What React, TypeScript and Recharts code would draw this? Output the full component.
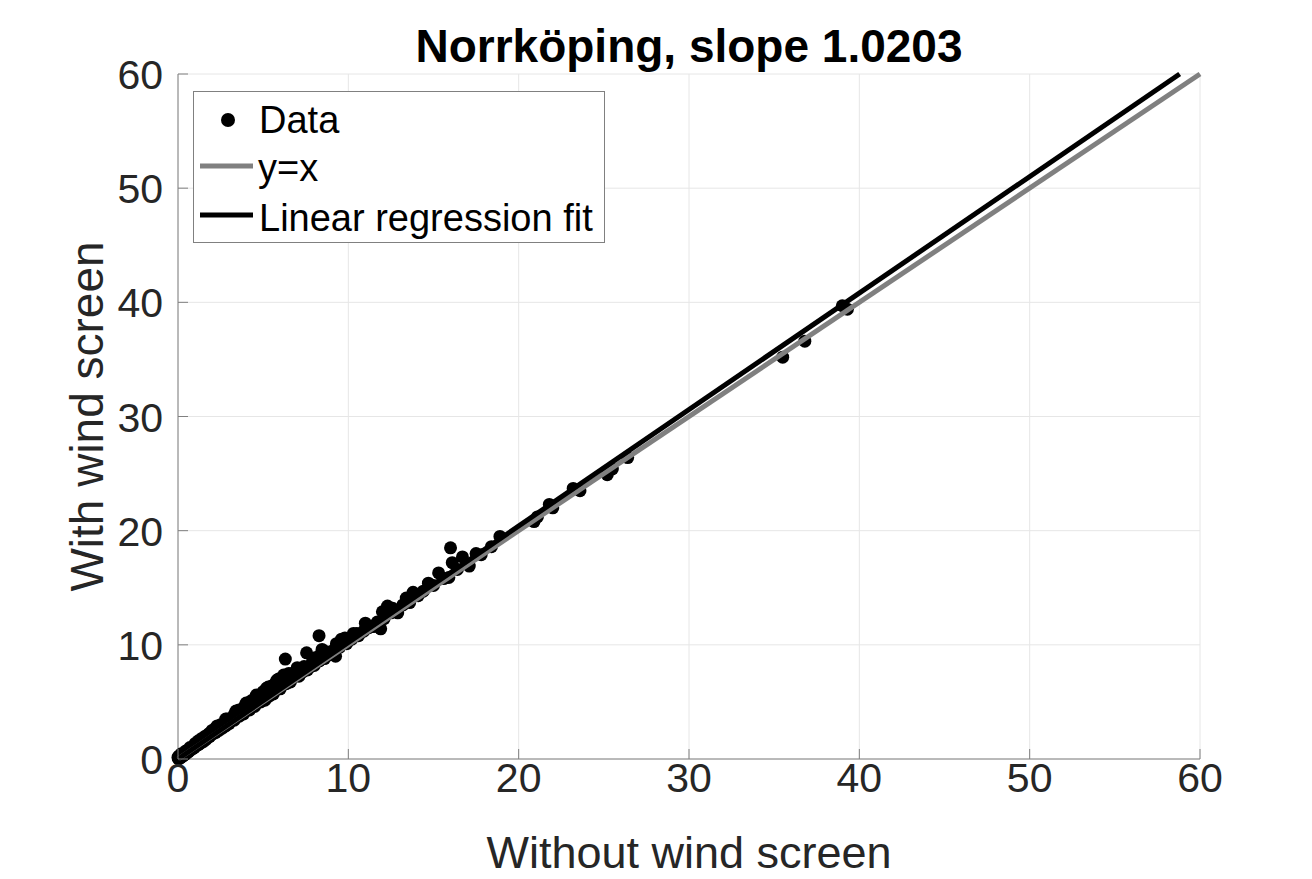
import React from "react";
import { ScatterChart, Scatter, XAxis, YAxis, CartesianGrid, Legend } from "recharts";

const withoutScreen = [
  0.02, 0.05, 0.08, 0.1, 0.12, 0.15, 0.18, 0.2, 0.22, 0.25, 0.3, 0.3, 0.35, 0.4, 0.42, 0.48, 0.5, 0.55, 0.6, 0.62,
  0.7, 0.72, 0.8, 0.85, 0.9, 0.95, 1.0, 1.05, 1.1, 1.17, 1.2, 1.3, 1.35, 1.45, 1.5, 1.6, 1.65, 1.75, 1.85, 1.9,
  2.0, 2.1, 2.2, 2.3, 2.4, 2.5, 2.6, 2.7, 2.8, 2.9, 3.0, 3.1, 3.23, 3.3, 3.45, 3.58, 3.6, 3.75, 3.85, 4.0,
  4.1, 4.2, 4.35, 4.5, 4.65, 4.7, 4.85, 5.0, 5.1, 5.25, 5.35, 5.5, 5.6, 5.8, 5.9, 6.0, 6.2, 6.3, 6.35, 6.5,
  6.6, 6.8, 7.0, 7.1, 7.3, 7.55, 7.6, 7.8, 8.0, 8.28, 8.3, 8.46, 8.6, 8.8, 9.0, 9.1, 9.25, 9.3, 9.5, 9.8,
  9.9, 10.0, 10.2, 10.5, 10.6, 10.9, 11.2, 11.5, 11.7, 11.9, 12.1, 12.3, 12.5, 12.9, 13.2, 13.4, 13.6, 13.8, 14.1, 14.4,
  14.7, 15.0, 15.3, 15.6, 15.9, 16.0, 16.1, 16.4, 16.7, 17.1, 17.5, 17.8, 18.4, 18.9, 20.9, 21.1, 21.8, 22.0, 23.2, 23.6,
  25.2, 25.5, 26.4, 35.5, 36.8, 39.0, 39.3,
  0.0, 0.05, 0.1, 0.2, 0.45, 0.7, 1.0, 1.4, 1.6, 1.8, 2.0, 2.2, 2.5, 2.9, 3.3, 3.5, 3.9, 4.3, 4.5, 4.9,
  5.0, 5.2, 5.5, 5.7, 6.1, 6.4, 6.7, 6.9, 7.2, 7.4, 7.9, 8.1, 8.7,
  1.2, 2.3, 2.8, 3.4, 4.0, 4.6, 5.3, 5.9, 6.5, 7.0, 8.4, 9.6, 10.3, 11.0, 12.0, 12.6,
];

const withScreen = [
  0.03, 0.04, 0.1, 0.15, 0.08, 0.22, 0.2, 0.3, 0.18, 0.35, 0.28, 0.42, 0.45, 0.38, 0.55, 0.5, 0.62, 0.7, 0.6, 0.78,
  0.75, 0.9, 0.95, 0.88, 1.1, 1.0, 1.2, 1.12, 1.3, 1.42, 1.25, 1.5, 1.4, 1.62, 1.55, 1.85, 1.72, 1.95, 1.95, 2.3,
  2.15, 2.4, 2.3, 2.6, 2.5, 2.85, 2.7, 3.05, 2.9, 3.25, 3.1, 3.45, 3.6, 3.4, 3.8, 4.29, 3.75, 4.1, 3.95, 4.4,
  4.9, 4.3, 4.75, 4.6, 5.0, 5.4, 5.0, 5.3, 5.15, 5.8, 5.5, 5.9, 5.7, 6.9, 6.3, 6.15, 7.35, 8.75, 6.6, 7.0,
  6.75, 7.2, 7.8, 7.25, 7.6, 9.3, 7.8, 8.1, 8.2, 10.8, 8.6, 9.6, 8.8, 9.1, 9.2, 9.5, 9.0, 10.1, 9.8, 10.6,
  10.1, 10.4, 10.5, 11.0, 10.8, 11.2, 11.5, 11.6, 12.0, 11.4, 12.3, 13.4, 12.8, 12.8, 13.5, 14.1, 13.7, 14.6, 14.3, 14.7,
  15.4, 15.2, 16.3, 15.8, 15.9, 18.5, 17.2, 16.6, 17.7, 16.9, 18.0, 17.9, 18.6, 19.5, 20.8, 21.2, 22.3, 22.0, 23.7, 23.5,
  24.9, 25.4, 26.4, 35.2, 36.6, 39.7, 39.4,
  0.15, 0.25, 0.3, 0.45, 0.7, 1.0, 1.35, 1.8, 2.0, 2.2, 2.5, 2.7, 3.0, 3.5, 3.9, 4.2, 4.6, 5.1, 5.3, 5.6,
  5.9, 6.2, 6.4, 6.6, 6.9, 7.1, 7.5, 7.4, 7.9, 8.1, 8.6, 8.9, 9.4,
  1.6, 2.9, 3.5, 4.2, 4.9, 5.6, 6.3, 7.0, 7.5, 8.0, 9.2, 10.5, 11.0, 11.9, 12.9, 13.2,
];

const axisTicks = [0, 10, 20, 30, 40, 50, 60];
const axisMax = 60;
const identityX = [0, 60];
const fitSlope = 1.0203;
const titleText = "Norrköping, slope 1.0203";
const xLabelText = "Without wind screen";
const yLabelText = "With wind screen";
const legendLabels = ["Data", "y=x", "Linear regression fit"];

const points = withoutScreen.map((x, i) => ({ x, y: withScreen[i] }));
const identityLine = identityX.map((x) => ({ x, y: x }));
const fitLine = [
  { x: 0, y: 0 },
  { x: axisMax / fitSlope, y: axisMax },
];

const FONT = "'Liberation Sans', Arial, Helvetica, sans-serif";
const AXC = "#808080";
const TXT = "#262626";
const TICK_FS = 41;
const LABEL_FS = 46;

const BottomTick = (props: any) => {
  const { x, y, payload } = props;
  return (
    <g>
      <line x1={x} y1={y} x2={x} y2={y - 10} stroke={AXC} strokeWidth={1} />
      <text x={x} y={y + 33} textAnchor="middle" fontSize={TICK_FS} fill={TXT} fontFamily={FONT}>
        {payload.value}
      </text>
    </g>
  );
};

const TopTick = (props: any) => {
  const { x, y } = props;
  return <line x1={x} y1={y} x2={x} y2={y + 10} stroke={AXC} strokeWidth={1} />;
};

const LeftTick = (props: any) => {
  const { x, y, payload } = props;
  return (
    <g>
      <line x1={x} y1={y} x2={x + 10} y2={y} stroke={AXC} strokeWidth={1} />
      <text x={x - 15} y={y + 15} textAnchor="end" fontSize={TICK_FS} fill={TXT} fontFamily={FONT}>
        {payload.value}
      </text>
    </g>
  );
};

const RightTick = (props: any) => {
  const { x, y } = props;
  return <line x1={x} y1={y} x2={x - 10} y2={y} stroke={AXC} strokeWidth={1} />;
};

const Dot = (props: any) => <circle cx={props.cx} cy={props.cy} r={6.5} fill="#000" />;
const NoShape = () => null;

const LegendBox = () => (
  <svg width={412} height={152} style={{ display: "block" }}>
    <rect x={0.5} y={0.5} width={411} height={151} fill="#fff" stroke={AXC} strokeWidth={1} />
    <circle cx={35} cy={29} r={7} fill="#000" />
    <text x={66} y={42} fontSize={38} fontFamily={FONT} fill="#000">
      {legendLabels[0]}
    </text>
    <line x1={7} y1={75} x2={60} y2={75} stroke="#808080" strokeWidth={5} />
    <text x={65} y={90} fontSize={38} fontFamily={FONT} fill="#000">
      {legendLabels[1]}
    </text>
    <line x1={7} y1={124} x2={60} y2={124} stroke="#000" strokeWidth={5} />
    <text x={66} y={140} fontSize={38} fontFamily={FONT} fill="#000">
      {legendLabels[2]}
    </text>
  </svg>
);

const XLabel = (props: any) => {
  const vb = props.viewBox || {};
  const cx = vb.x + vb.width / 2;
  return (
    <g>
      <text x={cx} y={vb.y + 109} textAnchor="middle" fontSize={45} fill={TXT} fontFamily={FONT}>
        {xLabelText}
      </text>
      <text x={cx} y={54} textAnchor="middle" fontSize={46} fontWeight="bold" fill="#000" fontFamily={FONT}>
        {titleText}
      </text>
    </g>
  );
};

const YLabel = (props: any) => {
  const vb = props.viewBox || {};
  const cx = vb.x + 95;
  const cy = vb.y + vb.height / 2;
  return (
    <text x={cx} y={cy} transform={`rotate(-90 ${cx} ${cy})`} textAnchor="middle" fontSize={LABEL_FS} fill={TXT} fontFamily={FONT}>
      {yLabelText}
    </text>
  );
};

export default function App() {
  return (
    <div style={{ width: 1296, height: 871, background: "#fff", fontFamily: FONT }}>
      <ScatterChart width={1296} height={871} margin={{ top: 66, right: 104, bottom: 60, left: 0 }}>
        <CartesianGrid stroke="#e6e6e6" strokeWidth={1} />
        <XAxis
          dataKey="x"
          type="number"
          domain={[0, axisMax]}
          ticks={axisTicks}
          interval={0}
          height={60}
          tickSize={0}
          tickMargin={0}
          tickLine={false}
          axisLine={{ stroke: AXC, strokeWidth: 1 }}
          tick={<BottomTick />}
          label={<XLabel />}
        />
        <XAxis
          xAxisId="top"
          orientation="top"
          dataKey="x"
          type="number"
          domain={[0, axisMax]}
          ticks={axisTicks}
          interval={0}
          height={0}
          tickSize={0}
          tickMargin={0}
          tickLine={false}
          axisLine={{ stroke: AXC, strokeWidth: 1 }}
          tick={<TopTick />}
        />
        <YAxis
          dataKey="y"
          type="number"
          domain={[0, axisMax]}
          ticks={axisTicks}
          interval={0}
          width={170}
          tickSize={0}
          tickMargin={0}
          tickLine={false}
          axisLine={{ stroke: AXC, strokeWidth: 1 }}
          tick={<LeftTick />}
          label={<YLabel />}
        />
        <YAxis
          yAxisId="right"
          orientation="right"
          dataKey="y"
          type="number"
          domain={[0, axisMax]}
          ticks={axisTicks}
          interval={0}
          width={0}
          tickSize={0}
          tickMargin={0}
          tickLine={false}
          axisLine={{ stroke: AXC, strokeWidth: 1 }}
          tick={<RightTick />}
        />
        <Legend
          layout="vertical"
          align="center"
          verticalAlign="middle"
          content={<LegendBox />}
          wrapperStyle={{ position: "absolute", left: 185, top: 83, width: 412, height: 152 }}
        />
        <Scatter name="Data" data={points} shape={Dot} isAnimationActive={false} />
        <Scatter
          name="y=x"
          data={identityLine}
          shape={NoShape}
          line={{ stroke: "#808080", strokeWidth: 5 }}
          isAnimationActive={false}
        />
        <Scatter
          name="Linear regression fit"
          data={fitLine}
          shape={NoShape}
          line={{ stroke: "#000", strokeWidth: 5 }}
          isAnimationActive={false}
        />
      </ScatterChart>
    </div>
  );
}
